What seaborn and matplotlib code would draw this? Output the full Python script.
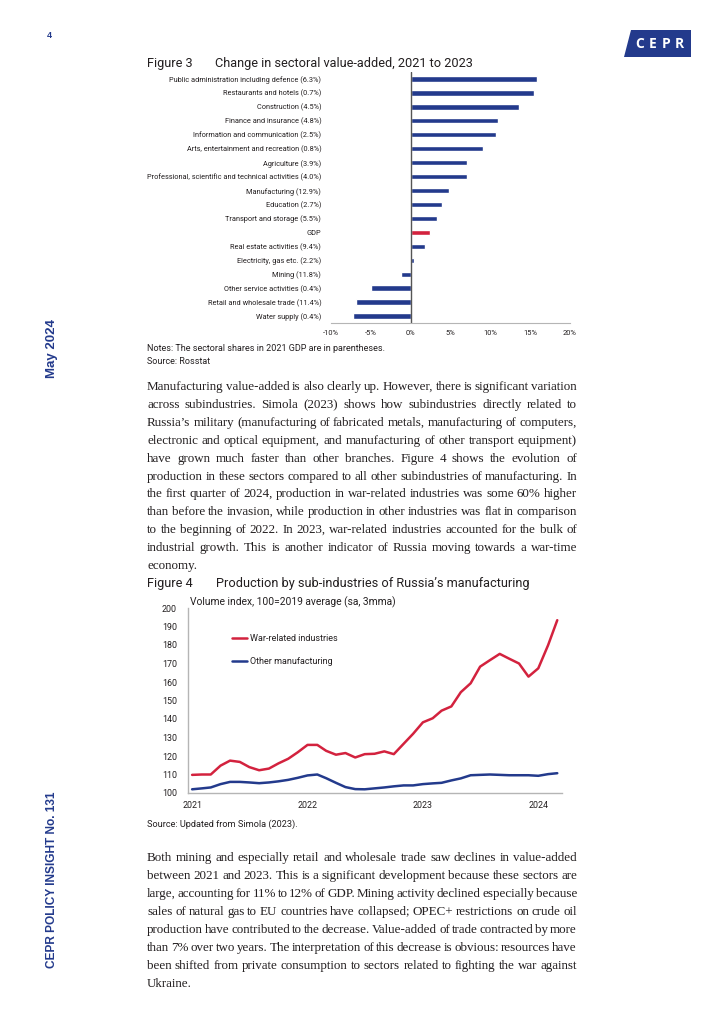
import matplotlib
matplotlib.use("Agg")
import matplotlib.dates as mdates
import matplotlib.pyplot as plt
import numpy as np
import pandas as pd
import seaborn as sns
from matplotlib.patches import Polygon

W, H = 724, 1024
NAVY = "#233a8c"
RED = "#d3223e"
INK = "#231f20"
SANS = ["Roboto", "DejaVu Sans"]
SERIF = ["Liberation Serif", "DejaVu Serif"]

# Figure 3 data
sectors = [
    "Public administration including defence (6.3%)",
    "Restaurants and hotels (0.7%)",
    "Construction (4.5%)",
    "Finance and insurance (4.8%)",
    "Information and communication (2.5%)",
    "Arts, entertainment and recreation (0.8%)",
    "Agriculture (3.9%)",
    "Professional, scientific and technical activities (4.0%)",
    "Manufacturing (12.9%)",
    "Education (2.7%)",
    "Transport and storage (5.5%)",
    "GDP",
    "Real estate activities (9.4%)",
    "Electricity, gas etc. (2.2%)",
    "Mining (11.8%)",
    "Other service activities (0.4%)",
    "Retail and wholesale trade (11.4%)",
    "Water supply (0.4%)",
]
change = [15.9, 15.5, 13.6, 11.0, 10.7, 9.1, 7.1, 7.1, 4.8, 3.9, 3.3, 2.4,
          1.8, 0.4, -1.2, -5.0, -6.9, -7.3]
pct_ticks = [-10, -5, 0, 5, 10, 15, 20]

# Figure 4 data, monthly Jan 2021 - Mar 2024
months = pd.date_range("2021-01-01", periods=39, freq="MS")
war_related = [109.8, 110.0, 110.0, 114.8, 117.5, 116.8, 114.0, 112.3, 113.2, 116.0,
               118.5, 122.0, 126.0, 126.0, 122.8, 120.7, 121.6, 119.2, 121.0, 121.2,
               122.5, 121.0, 126.6, 132.0, 138.2, 140.4, 144.5, 146.8, 154.5, 159.3,
               168.3, 171.8, 175.2, 172.6, 170.0, 162.9, 167.4, 179.9, 193.4]
other_manuf = [102.0, 102.5, 103.0, 104.8, 106.0, 106.0, 105.7, 105.3, 105.7, 106.3,
               107.1, 108.2, 109.5, 110.0, 108.0, 105.5, 103.2, 102.1, 102.0, 102.5,
               103.0, 103.6, 104.1, 104.1, 104.8, 105.2, 105.5, 106.8, 107.9, 109.6,
               109.8, 110.0, 109.8, 109.6, 109.6, 109.6, 109.3, 110.2, 110.7]
index_ticks = list(range(100, 201, 10))

para1 = [
    "Manufacturing value-added is also clearly up. However, there is significant variation",
    "across subindustries. Simola (2023) shows how subindustries directly related to",
    "Russia\u2019s military (manufacturing of fabricated metals, manufacturing of computers,",
    "electronic and optical equipment, and manufacturing of other transport equipment)",
    "have grown much faster than other branches. Figure 4 shows the evolution of",
    "production in these sectors compared to all other subindustries of manufacturing. In",
    "the first quarter of 2024, production in war-related industries was some 60% higher",
    "than before the invasion, while production in other industries was flat in comparison",
    "to the beginning of 2022. In 2023, war-related industries accounted for the bulk of",
    "industrial growth. This is another indicator of Russia moving towards a war-time",
    "economy.",
]
para2 = [
    "Both mining and especially retail and wholesale trade saw declines in value-added",
    "between 2021 and 2023. This is a significant development because these sectors are",
    "large, accounting for 11% to 12% of GDP. Mining activity declined especially because",
    "sales of natural gas to EU countries have collapsed; OPEC+ restrictions on crude oil",
    "production have contributed to the decrease. Value-added of trade contracted by more",
    "than 7% over two years. The interpretation of this decrease is obvious: resources have",
    "been shifted from private consumption to sectors related to fighting the war against",
    "Ukraine.",
]


def fx(x):
    return x / W


def fy(y):
    return 1 - y / H


def box(left, top, right, bottom):
    return [fx(left), fy(bottom), (right - left) / W, (bottom - top) / H]


def justified(fig, lines, x0, x1, base0, step, **kw):
    renderer = fig.canvas.get_renderer()
    probe = fig.text(0, 0, "a a", **kw)
    probe2 = fig.text(0, 0, "aa", **kw)
    space = probe.get_window_extent(renderer).width - probe2.get_window_extent(renderer).width
    probe.remove()
    probe2.remove()
    for k, line in enumerate(lines):
        words = line.split()
        y = fy(round(base0 + k * step))
        texts = [fig.text(0, y, w, va="baseline", **kw) for w in words]
        widths = [t.get_window_extent(renderer).width for t in texts]
        if k == len(lines) - 1 or len(words) == 1:
            gap = space
        else:
            gap = max((x1 - x0 - sum(widths)) / (len(words) - 1), 0.5 * space)
        x = x0
        for t, w in zip(texts, widths):
            t.set_x(fx(x))
            x += w + gap


sns.set_style("white")
plt.rcParams["font.family"] = SANS
plt.rcParams["text.color"] = INK
plt.rcParams["axes.labelcolor"] = INK
plt.rcParams["xtick.color"] = INK
plt.rcParams["ytick.color"] = INK

fig = plt.figure(figsize=(W / 100, H / 100), dpi=100)

# page furniture
fig.text(fx(49), fy(36), "4", color=NAVY, fontsize=6.5, fontweight="bold",
         ha="center", va="center", family=["Liberation Sans", "DejaVu Sans"])
fig.text(fx(52), fy(348), "May 2024", color=NAVY, fontsize=9.5, fontweight="bold",
         rotation=90, ha="center", va="center", family=["Liberation Sans", "DejaVu Sans"])
fig.text(fx(52), fy(880), "CEPR POLICY INSIGHT No. 131", color=NAVY, fontsize=8.6,
         fontweight="bold", rotation=90, ha="center", va="center",
         family=["Liberation Sans", "DejaVu Sans"])
logo = Polygon([(fx(631), fy(30)), (fx(691), fy(30)), (fx(691), fy(57)), (fx(624), fy(57))],
               closed=True, transform=fig.transFigure, facecolor=NAVY, edgecolor="none")
fig.patches.append(logo)
for letter, lx in zip("CEPR", [640, 653, 666, 679]):
    fig.text(fx(lx), fy(44), letter, color="white", fontsize=10, fontweight="bold",
             ha="center", va="center", family=["Open Sans", "DejaVu Sans"])

# Figure 3
fig.text(fx(147), fy(67), "Figure 3", fontsize=9.2, va="baseline")
fig.text(fx(215), fy(67), "Change in sectoral value-added, 2021 to 2023", fontsize=9.2,
         va="baseline")

ax1 = fig.add_axes(box(331, 72, 570, 323))
pal = {s: (RED if s == "GDP" else NAVY) for s in sectors}
sns.barplot(x=change, y=sectors, hue=sectors, palette=pal, legend=False, orient="h",
            width=0.38, saturation=1, ax=ax1)
ax1.set_xlim(-10, 20)
ax1.set_ylim(len(sectors) - 0.5, -0.5)
ax1.axvline(0, color="#555555", lw=1.0)
ax1.set_xticks(pct_ticks)
ax1.set_xticklabels([f"{t}%" for t in pct_ticks])
ax1.tick_params(axis="x", length=0, labelsize=5.4, pad=5)
ax1.tick_params(axis="y", length=0, labelsize=5.3, pad=7)
for side in ["top", "right", "left"]:
    ax1.spines[side].set_visible(False)
ax1.spines["bottom"].set_color("#b5b5b5")
ax1.spines["bottom"].set_linewidth(0.8)
ax1.set_xlabel("")
ax1.set_ylabel("")

fig.text(fx(147), fy(351), "Notes: The sectoral shares in 2021 GDP are in parentheses.",
         fontsize=6.5, va="baseline")
fig.text(fx(147), fy(364), "Source: Rosstat", fontsize=6.5, va="baseline")

justified(fig, para1, 147, 577, 390, 17.9, fontsize=9.4, family=SERIF, color=INK)

# Figure 4
fig.text(fx(147), fy(587), "Figure 4", fontsize=9.2, va="baseline")
fig.text(fx(216), fy(587), "Production by sub-industries of Russia\u2019s manufacturing",
         fontsize=9.2, va="baseline")
fig.text(fx(190), fy(605), "Volume index, 100=2019 average (sa, 3mma)", fontsize=7.4,
         va="baseline")

ax2 = fig.add_axes(box(188, 608, 562, 793))
prod = pd.DataFrame({
    "date": list(months) * 2,
    "value": war_related + other_manuf,
    "series": ["War-related industries"] * len(months) + ["Other manufacturing"] * len(months),
})
sns.lineplot(data=prod, x="date", y="value", hue="series",
             palette={"War-related industries": RED, "Other manufacturing": NAVY},
             lw=1.8, ax=ax2)
ax2.set_xlim(months[0] - pd.Timedelta(days=13), months[-1] + pd.Timedelta(days=15))
ax2.set_ylim(100, 200)
ax2.set_yticks(index_ticks)
ax2.xaxis.set_major_locator(mdates.YearLocator())
ax2.xaxis.set_major_formatter(mdates.DateFormatter("%Y"))
ax2.tick_params(axis="y", length=0, labelsize=6.4, pad=8)
ax2.tick_params(axis="x", length=0, labelsize=6.4, pad=6)
for side in ["top", "right"]:
    ax2.spines[side].set_visible(False)
for side in ["left", "bottom"]:
    ax2.spines[side].set_color("#b5b5b5")
    ax2.spines[side].set_linewidth(1.0)
ax2.set_xlabel("")
ax2.set_ylabel("")
ax2.legend(loc="upper left", bbox_to_anchor=(fx(232), fy(634)), bbox_transform=fig.transFigure,
           frameon=False, fontsize=6.5, handlelength=1.7, handletextpad=0.25,
           labelspacing=1.6, borderpad=0, borderaxespad=0, title=None)

fig.text(fx(147), fy(827), "Source: Updated from Simola (2023).", fontsize=6.6, va="baseline")

justified(fig, para2, 147, 577, 861, 18, fontsize=9.4, family=SERIF, color=INK)

fig.savefig("out.png", dpi=100)
